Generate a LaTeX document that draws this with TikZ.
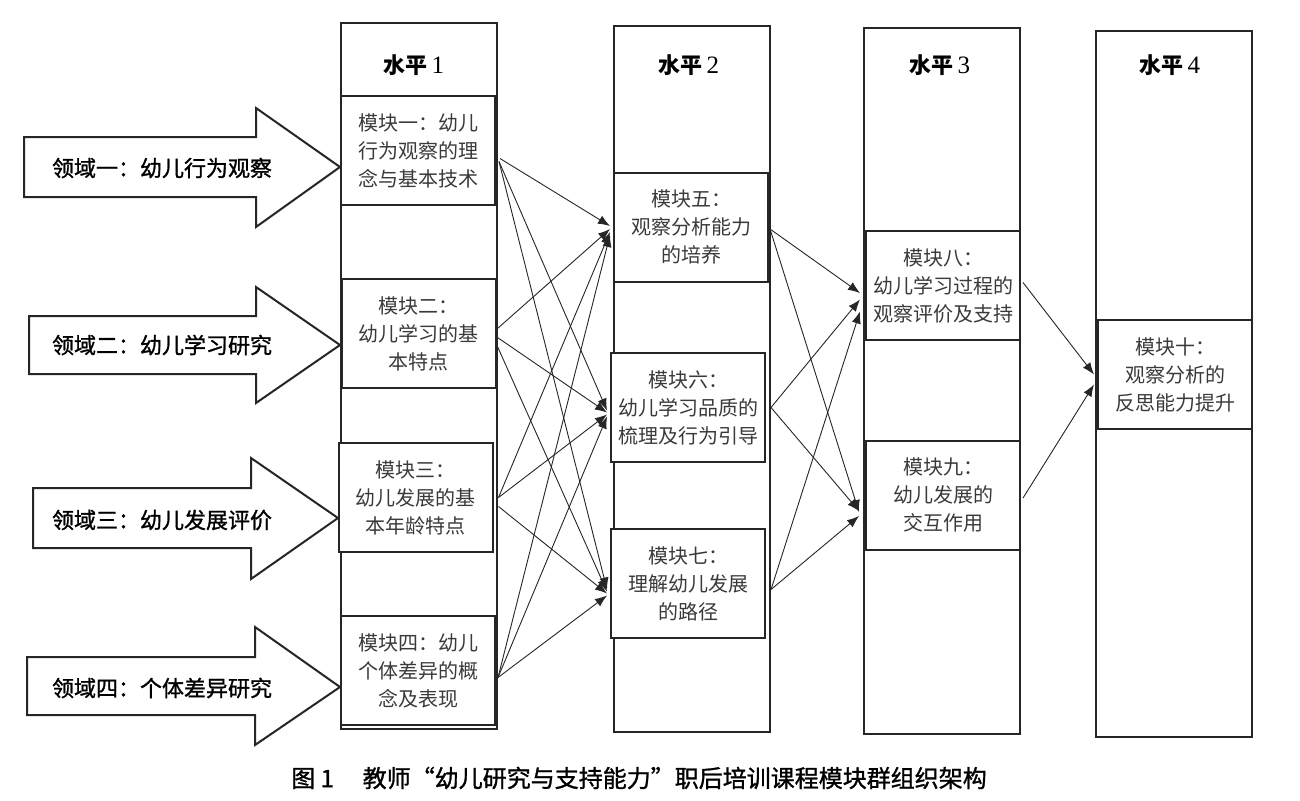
\documentclass[tikz,border=0pt]{standalone}
\usepackage{fontspec}
\setmainfont{Noto Sans CJK SC}
\newfontfamily\medfont{Noto Sans CJK SC}[FakeBold=1.2]
\newfontfamily\numfont{Liberation Serif}
\usetikzlibrary{arrows.meta,calc}
\definecolor{ink}{HTML}{262626}
\definecolor{txt}{HTML}{3A3A3A}
\begin{document}
\begin{tikzpicture}[x=0.5pt,y=-0.5pt,
  col/.style={draw=ink,line width=1pt,inner sep=0pt,minimum width=78pt,minimum height=353pt},
  mod/.style={draw=ink,line width=1pt,fill=white,inner sep=0pt,align=center,
    font=\fontsize{10}{14}\selectfont,text=txt,minimum width=77pt,minimum height=54.5pt},
  hdr/.style={font=\fontsize{11}{12}\selectfont,text=black},
  conn/.style={draw=ink,line width=0.45pt,-{Latex[length=6pt,width=4.6pt]}},
  bigarr/.style={draw=ink,line width=1pt,fill=white,line join=miter},
  lbl/.style={font=\fontsize{11}{13}\selectfont\medfont,text=black,inner sep=0pt},
  captext/.style={font=\fontsize{12}{14}\selectfont\medfont,text=black}
]
\useasboundingbox (0,0) rectangle (1300,800);
\fill[white] (0,0) rectangle (1300,800);

% level columns
\node[col] (L1) at (418.5,376) {};
\node[col] (L2) at (691.5,378.5) {};
\node[col] (L3) at (942,381) {};
\node[col] (L4) at (1174,383.5) {};
\node[hdr] (h1) at (414,65) {{\bfseries 水平}\,{\numfont\fontsize{12.5}{12}\selectfont 1}};
\node[hdr] (h2) at (689,65) {{\bfseries 水平}\,{\numfont\fontsize{12.5}{12}\selectfont 2}};
\node[hdr] (h3) at (940,65) {{\bfseries 水平}\,{\numfont\fontsize{12.5}{12}\selectfont 3}};
\node[hdr] (h4) at (1170,65) {{\bfseries 水平}\,{\numfont\fontsize{12.5}{12}\selectfont 4}};

% big arrows
\draw[bigarr] (24,137) -- (256,137) -- (256,108) -- (340,167) -- (256,227) -- (256,197) -- (24,197) -- cycle;
\draw[bigarr] (29,316) -- (256,316) -- (256,287) -- (340,345) -- (256,403) -- (256,374) -- (29,374) -- cycle;
\draw[bigarr] (33,488) -- (251,488) -- (251,458) -- (338,518) -- (251,579) -- (251,548) -- (33,548) -- cycle;
\draw[bigarr] (27,657) -- (255,657) -- (255,627) -- (340,687) -- (255,745) -- (255,715) -- (27,715) -- cycle;
\node[lbl] (a1) at (162,168) {领域一：幼儿行为观察};
\node[lbl] (a2) at (162,345) {领域二：幼儿学习研究};
\node[lbl] (a3) at (162,520) {领域三：幼儿发展评价};
\node[lbl] (a4) at (162,688) {领域四：个体差异研究};

% modules
\node[mod] (m1) at (418,150.5) {模块一：幼儿\\行为观察的理\\念与基本技术};
\node[mod] (m2) at (418.5,333.5) {模块二：\\幼儿学习的基\\本特点};
\node[mod] (m3) at (415.5,497.5) {模块三：\\幼儿发展的基\\本年龄特点};
\node[mod] (m4) at (418,670.5) {模块四：幼儿\\个体差异的概\\念及表现};
\node[mod] (m5) at (691,227) {模块五：\\观察分析能力\\的培养};
\node[mod] (m6) at (688,407.5) {模块六：\\幼儿学习品质的\\梳理及行为引导};
\node[mod] (m7) at (688,583.5) {模块七：\\理解幼儿发展\\的路径};
\node[mod] (m8) at (943,285.5) {模块八：\\幼儿学习过程的\\观察评价及支持};
\node[mod] (m9) at (943,495) {模块九：\\幼儿发展的\\交互作用};
\node[mod] (m10) at (1175,374.5) {模块十：\\观察分析的\\反思能力提升};

% level 1 -> level 2
\draw[conn] ($(m1.east)+(4,8)$) -- ($(m5.west)+(-3,-1)$);
\draw[conn] ($(m1.east)+(3,11)$) -- ($(m6.west)+(-3,3)$);
\draw[conn] ($(m1.east)+(3,11)$) -- ($(m7.west)+(-3,6)$);
\draw[conn] ($(m2.east)+(1,-5)$) -- ($(m5.west)+(-3,2)$);
\draw[conn] ($(m2.east)+(1,4)$) -- ($(m6.west)+(-3,5)$);
\draw[conn] ($(m2.east)+(1,13)$) -- ($(m7.west)+(-3,8)$);
\draw[conn] ($(m3.east)+(5,0)$) -- ($(m5.west)+(-3,5)$);
\draw[conn] ($(m3.east)+(5,0)$) -- ($(m6.west)+(-3,7)$);
\draw[conn] ($(m3.east)+(5,9)$) -- ($(m7.west)+(-3,10)$);
\draw[conn] ($(m4.east)+(2,7)$) -- ($(m5.west)+(-3,8)$);
\draw[conn] ($(m4.east)+(2,7)$) -- ($(m6.west)+(-3,9)$);
\draw[conn] ($(m4.east)+(2,7)$) -- ($(m7.west)+(-3,12)$);

% level 2 -> level 3
\draw[conn] ($(m5.east)+(1,2)$) -- ($(m8.west)+(-5,7.5)$);
\draw[conn] ($(m5.east)+(1,2)$) -- ($(m9.west)+(-6,17)$);
\draw[conn] ($(m6.east)+(5,0)$) -- ($(m8.west)+(-5,14)$);
\draw[conn] ($(m6.east)+(5,0)$) -- ($(m9.west)+(-6,16)$);
\draw[conn] ($(m7.east)+(5,6)$) -- ($(m8.west)+(-5,26)$);
\draw[conn] ($(m7.east)+(5,6)$) -- ($(m9.west)+(-6,21)$);

% level 3 -> level 4
\draw[conn] ($(m8.east)+(2,-3)$) -- ($(m10.west)+(-3,0)$);
\draw[conn] ($(m9.east)+(2,3)$) -- ($(m10.west)+(-3,10)$);

% caption
\node[captext] (caption) at (639,778) {图 1\hspace{1.2em}教师“幼儿研究与支持能力”职后培训课程模块群组织架构};
\end{tikzpicture}
\end{document}
